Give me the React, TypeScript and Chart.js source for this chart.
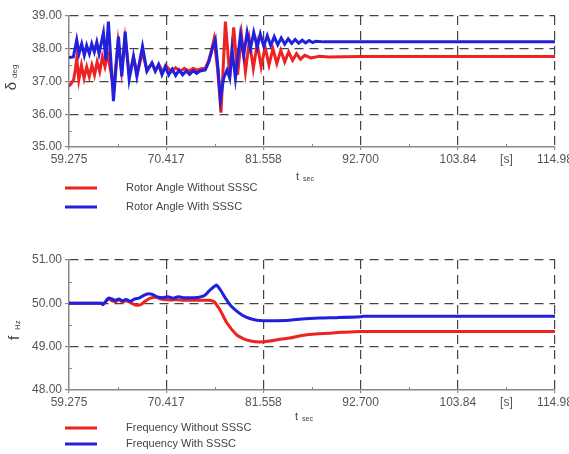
import React, { useEffect, useRef } from "react";
import { Chart, registerables } from "chart.js";

Chart.register(...registerables);

// ---------- shared axis data ----------
const xMin = 59.275;
const xMax = 114.98;
const xTickValues = [59.275, 70.417, 81.558, 92.7, 103.84, 109.41, 114.98];
const xTickLabels = ["59.275", "70.417", "81.558", "92.700", "103.84", "[s]", "114.98"];
const unitTickValue = 109.41;

// ---------- rotor angle (deg) ----------
const rotorLabels = ["Rotor Angle Without SSSC", "Rotor Angle With SSSC"];
const rotorWithoutT = [
  59.275, 59.55, 59.8, 60.0, 60.16, 60.4, 60.7, 61.0, 61.3, 61.6, 61.9, 62.2, 62.5, 62.8, 63.1, 63.4, 63.7,
  64.0, 64.4, 64.9, 65.3, 65.7, 66.2, 66.7, 67.1, 67.7, 68.2, 68.8, 69.2, 69.6, 70.0, 70.5, 71.0, 71.5,
  72.0, 72.5, 73.0, 73.5, 74.0, 74.5, 74.9, 75.3, 75.6, 75.9, 76.3, 76.7, 77.2, 77.7, 78.15, 78.6, 79.05,
  79.5, 79.95, 80.4, 80.85, 81.3, 81.75, 82.2, 82.65, 83.1, 83.55, 84.0, 84.45, 84.9, 85.35, 85.8, 86.3,
  87.0, 88.0, 89.0, 92.7, 114.98,
];
const rotorWithoutV = [
  36.85, 36.95, 37.05, 37.35, 37.7, 37.05, 37.5, 37.1, 37.45, 37.15, 37.5, 37.2, 37.6, 37.3, 37.75, 37.45, 37.85,
  37.4, 36.8, 38.2, 37.3, 38.3, 37.2, 37.7, 37.25, 37.9, 37.35, 37.55, 37.35, 37.5, 37.3, 37.45, 37.3, 37.42,
  37.3, 37.4, 37.32, 37.4, 37.35, 37.4, 37.4, 37.65, 37.95, 38.3, 37.4, 36.05, 38.83, 37.15, 38.65, 37.2, 38.4,
  37.3, 38.25, 37.4, 38.15, 37.45, 38.05, 37.5, 38.0, 37.55, 37.95, 37.6, 37.9, 37.65, 37.85, 37.68, 37.8,
  37.72, 37.77, 37.75, 37.76, 37.76,
];
const rotorWithT = [
  59.275, 59.77, 60.16, 60.42, 60.73, 61.03, 61.3, 61.61, 61.88, 62.18, 62.46, 62.72, 63.22, 63.49, 63.79,
  64.37, 64.94, 65.33, 65.71, 66.17, 66.66, 67.05, 67.7, 68.2, 68.78, 69.16, 69.54, 69.93, 70.31, 70.7, 71.1,
  71.5, 71.9, 72.3, 72.7, 73.1, 73.5, 73.9, 74.3, 74.9, 75.3, 75.67, 76.05, 76.35, 76.63, 77.0, 77.39, 77.7,
  77.97, 78.35, 78.92, 79.3, 79.69, 80.07, 80.45, 80.85, 81.2, 81.6, 82.0, 82.4, 82.8, 83.2, 83.6, 84.0, 84.4,
  84.8, 85.2, 85.6, 86.0, 86.4, 86.8, 87.2, 87.6, 88.5, 92.7, 114.98,
];
const rotorWithV = [
  37.73, 37.75, 38.27, 37.85, 38.15, 37.8, 38.1, 37.85, 38.15, 37.9, 38.2, 37.85, 38.48, 37.65, 38.83,
  36.4, 38.37, 37.16, 38.52, 37.06, 37.77, 37.16, 38.07, 37.31, 37.57, 37.31, 37.52, 37.21, 37.46, 37.2, 37.38,
  37.18, 37.35, 37.2, 37.32, 37.22, 37.33, 37.25, 37.32, 37.35, 37.6, 37.97, 38.27, 37.4, 36.45, 37.1, 37.35, 37.1,
  37.95, 37.1, 38.42, 37.8, 38.5, 38.0, 38.5, 38.05, 38.45, 38.08, 38.4, 38.1, 38.37, 38.12, 38.33, 38.14, 38.3,
  38.16, 38.28, 38.17, 38.26, 38.18, 38.25, 38.19, 38.23, 38.21, 38.21, 38.21,
];

// ---------- frequency (Hz) ----------
const freqLabels = ["Frequency Without SSSC", "Frequency With SSSC"];
const freqWithoutT = [
  59.275, 63.0, 63.15, 63.5, 63.8, 64.2, 64.6, 65.0, 65.4, 65.8, 66.3, 66.9, 67.5, 68.0, 68.6, 69.2, 69.8,
  70.5, 71.5, 72.5, 73.5, 74.5, 75.4, 75.9, 76.6, 77.4, 78.5, 79.3, 80.1, 81.2, 82.3, 83.5, 84.6, 85.8,
  87.5, 89.0, 90.5, 92.7, 114.98,
];
const freqWithoutV = [
  50.0, 50.0, 49.98, 50.04, 50.1, 50.06, 50.04, 50.08, 50.03, 50.06, 50.02, 49.96, 49.97, 50.05, 50.12, 50.14, 50.1,
  50.08, 50.08, 50.07, 50.07, 50.07, 50.07, 50.04, 49.84, 49.54, 49.27, 49.18, 49.13, 49.11, 49.13, 49.17, 49.2, 49.25,
  49.29, 49.31, 49.33, 49.35, 49.35,
];
const freqWithT = [
  59.275, 63.0, 63.15, 63.5, 63.8, 64.2, 64.6, 65.0, 65.4, 65.8, 66.3, 66.8, 67.3, 67.8, 68.4, 68.9, 69.4,
  70.0, 70.6, 71.2, 71.8, 72.4, 73.0, 73.6, 74.2, 74.8, 75.4, 76.0, 76.2, 76.6, 77.2, 77.8, 78.5, 79.2, 80.0,
  80.8, 81.6, 83.0, 84.5, 86.0, 88.0, 90.0, 92.7, 93.0, 114.98,
];
const freqWithV = [
  50.0, 50.0, 49.97, 50.05, 50.12, 50.1, 50.07, 50.1, 50.06, 50.09, 50.05, 50.1, 50.12, 50.18, 50.22, 50.2, 50.15,
  50.13, 50.15, 50.12, 50.15, 50.13, 50.13, 50.13, 50.14, 50.18, 50.3, 50.4, 50.42, 50.32, 50.12, 49.95, 49.82, 49.72, 49.65,
  49.61, 49.6, 49.6, 49.61, 49.64, 49.66, 49.67, 49.69, 49.7, 49.7,
];

const RED = "#ee2222";
const BLUE = "#2020dd";
const FONT = "'Liberation Sans', Arial, sans-serif";

function pts(t: number[], v: number[]) {
  return t.map((x, i) => ({ x, y: v[i] }));
}

const decorPlugin = {
  id: "decor",
  afterDraw(chart: any, _args: any, opts: any) {
    const ctx: CanvasRenderingContext2D = chart.ctx;
    const xs = chart.scales.x;
    const ys = chart.scales.y;
    const area = chart.chartArea;
    ctx.save();
    // minor ticks
    ctx.strokeStyle = "#888";
    ctx.lineWidth = 1;
    const majors = xTickValues.filter((v) => v !== unitTickValue);
    for (let i = 0; i < majors.length - 1; i++) {
      const px = Math.round(xs.getPixelForValue((majors[i] + majors[i + 1]) / 2)) + 0.5;
      ctx.beginPath();
      ctx.moveTo(px, area.bottom);
      ctx.lineTo(px, area.bottom - 3);
      ctx.stroke();
    }
    for (let v = ys.min + 0.5; v < ys.max; v += 1) {
      const py = Math.round(ys.getPixelForValue(v)) + 0.5;
      ctx.beginPath();
      ctx.moveTo(area.left, py);
      ctx.lineTo(area.left + 3, py);
      ctx.stroke();
    }
    // legend
    chart.data.datasets.forEach((ds: any, i: number) => {
      const y = opts.legendY[i];
      ctx.strokeStyle = ds.borderColor;
      ctx.lineWidth = 3;
      ctx.beginPath();
      ctx.moveTo(65, y);
      ctx.lineTo(97, y);
      ctx.stroke();
      ctx.fillStyle = "#444";
      ctx.font = `11px ${FONT}`;
      ctx.textAlign = "left";
      ctx.textBaseline = "middle";
      ctx.fillText(ds.label, 126, y);
    });
    // x title
    ctx.fillStyle = "#444";
    ctx.textBaseline = "middle";
    ctx.textAlign = "left";
    ctx.font = `11px ${FONT}`;
    ctx.fillText("t", opts.xTitle[0], opts.xTitle[1]);
    ctx.font = `7px ${FONT}`;
    ctx.fillText("sec", opts.xTitle[0] + 7, opts.xTitle[1] + 2);
    // y title (rotated)
    ctx.translate(opts.yTitle[0], opts.yTitle[1]);
    ctx.rotate(-Math.PI / 2);
    ctx.font = `15px ${FONT}`;
    ctx.textAlign = "center";
    ctx.fillText(opts.yTitle[2], 0, 0);
    ctx.font = `8px ${FONT}`;
    ctx.textAlign = "left";
    ctx.fillText(opts.yTitle[3], 8, 3);
    ctx.restore();
  },
};

function makeConfig(
  labels: string[],
  series: { x: number; y: number }[][],
  yMin: number,
  yMax: number,
  padTop: number,
  padBottom: number,
  decor: any,
  tension: number
) {
  const transparent = "rgba(0,0,0,0)";
  return {
    type: "line",
    data: {
      datasets: [
        { label: labels[0], data: series[0], borderColor: RED, borderWidth: 3, pointRadius: 0, tension, order: 2 },
        { label: labels[1], data: series[1], borderColor: BLUE, borderWidth: 3, pointRadius: 0, tension, order: 1 },
      ],
    },
    options: {
      animation: false,
      responsive: false,
      events: [],
      layout: { padding: { left: 0, top: padTop, right: 14, bottom: padBottom } },
      plugins: { legend: { display: false }, tooltip: { enabled: false }, decor },
      scales: {
        x: {
          type: "linear",
          min: xMin,
          max: xMax,
          afterBuildTicks: (s: any) => {
            s.ticks = xTickValues.map((v) => ({ value: v }));
          },
          afterFit: (s: any) => {
            s.height = 20;
            s.paddingLeft = 0;
            s.paddingRight = 0;
          },
          ticks: {
            autoSkip: false,
            maxRotation: 0,
            padding: 2,
            color: "#555",
            font: { family: FONT, size: 12 },
            callback: (_v: any, i: number) => xTickLabels[i],
          },
          grid: {
            color: (c: any) =>
              c.tick && (c.tick.value === xMin || c.tick.value === unitTickValue) ? transparent : "#444",
            tickColor: (c: any) => (c.tick && c.tick.value === unitTickValue ? transparent : "#888"),
            lineWidth: 1.2,
            drawTicks: true,
            tickLength: 3,
          },
          border: { display: true, color: "#888", width: 1.5, dash: [9, 6] },
        },
        y: {
          min: yMin,
          max: yMax,
          afterFit: (s: any) => {
            s.width = 69;
          },
          ticks: {
            stepSize: 1,
            padding: 3,
            color: "#555",
            font: { family: FONT, size: 12 },
            callback: (v: any) => Number(v).toFixed(2),
          },
          grid: {
            color: (c: any) => (c.tick && c.tick.value === yMin ? transparent : "#444"),
            tickColor: "#888",
            lineWidth: 1.2,
            drawTicks: true,
            tickLength: 4,
          },
          border: { display: true, color: "#888", width: 1.5, dash: [9, 6] },
        },
      },
    },
    plugins: [decorPlugin],
  };
}

export default function App() {
  const topRef = useRef<HTMLCanvasElement>(null);
  const botRef = useRef<HTMLCanvasElement>(null);

  useEffect(() => {
    const top = new Chart(
      topRef.current as HTMLCanvasElement,
      makeConfig(
        rotorLabels,
        [pts(rotorWithoutT, rotorWithoutV), pts(rotorWithT, rotorWithV)],
        35,
        39,
        16,
        63,
        { legendY: [188, 207], xTitle: [296, 177], yTitle: [12, 86, "δ", "deg"] },
        0
      ) as any
    );
    const bot = new Chart(
      botRef.current as HTMLCanvasElement,
      makeConfig(
        freqLabels,
        [pts(freqWithoutT, freqWithoutV), pts(freqWithT, freqWithV)],
        48,
        51,
        30,
        44,
        { legendY: [198, 214], xTitle: [295, 187], yTitle: [15, 108, "f", "Hz"] },
        0.3
      ) as any
    );
    return () => {
      top.destroy();
      bot.destroy();
    };
  }, []);

  return (
    <div style={{ position: "absolute", left: 0, top: 0, width: 569, height: 454, background: "#fff" }}>
      <canvas ref={topRef} width={569} height={230} style={{ display: "block" }} />
      <canvas ref={botRef} width={569} height={224} style={{ display: "block" }} />
    </div>
  );
}
